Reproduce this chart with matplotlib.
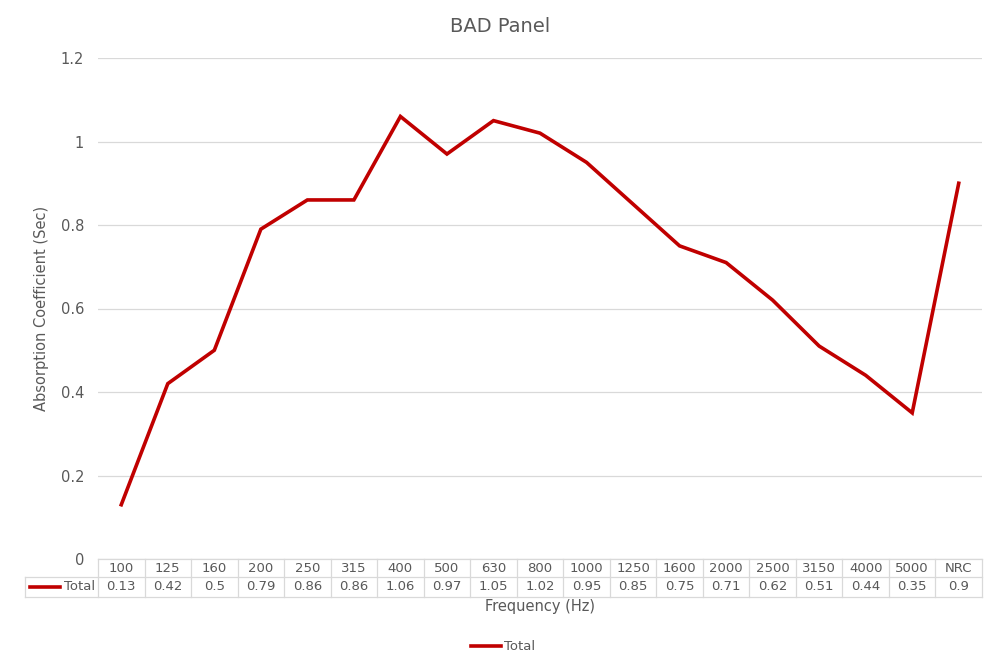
import matplotlib.pyplot as plt
from matplotlib.lines import Line2D

# data
freqs = ["100", "125", "160", "200", "250", "315", "400", "500", "630", "800",
         "1000", "1250", "1600", "2000", "2500", "3150", "4000", "5000", "NRC"]
total = [0.13, 0.42, 0.5, 0.79, 0.86, 0.86, 1.06, 0.97, 1.05, 1.02,
         0.95, 0.85, 0.75, 0.71, 0.62, 0.51, 0.44, 0.35, 0.9]

W, H = 1000, 668
txt = "#595959"
grid = "#d9d9d9"
red = "#c00000"

fig = plt.figure(figsize=(10, 6.68), dpi=100)
x0, x1, y0, y1 = 98, 982, 559, 58
ax = fig.add_axes([x0 / W, 1 - y0 / H, (x1 - x0) / W, (y0 - y1) / H])

n = len(freqs)
xs = list(range(n))
ax.plot(xs, total, color=red, lw=2.6, solid_joinstyle="miter")
ax.set_xlim(-0.5, n - 0.5)
ax.set_ylim(0, 1.2)
ax.set_yticks([0, 0.2, 0.4, 0.6, 0.8, 1, 1.2])
ax.set_yticklabels(["0", "0.2", "0.4", "0.6", "0.8", "1", "1.2"])
ax.tick_params(axis="y", length=0, pad=10, labelsize=10.5, labelcolor=txt)
ax.set_xticks([])
ax.grid(axis="y", color=grid, lw=0.9)
ax.set_axisbelow(True)
for s in ax.spines.values():
    s.set_visible(False)
ax.set_ylabel("Absorption Coefficient (Sec)", color=txt, fontsize=10.5, labelpad=8)

# data table below the plot, in figure pixel coords
def fx(px):
    return px / W

def fy(py):
    return 1 - py / H

cw = (x1 - x0) / n
r0, r1, r2 = 559, 577, 597
lk = dict(color=grid, lw=0.9, transform=fig.transFigure)
fig.add_artist(Line2D([fx(x0), fx(x1)], [fy(r0), fy(r0)], **lk))
fig.add_artist(Line2D([fx(25), fx(x1)], [fy(r1), fy(r1)], **lk))
fig.add_artist(Line2D([fx(25), fx(x1)], [fy(r2), fy(r2)], **lk))
fig.add_artist(Line2D([fx(25), fx(25)], [fy(r1), fy(r2)], **lk))
for i in range(n + 1):
    px = x0 + i * cw
    fig.add_artist(Line2D([fx(px), fx(px)], [fy(r0), fy(r2)], **lk))
for i, (f, v) in enumerate(zip(freqs, total)):
    cx = x0 + (i + 0.5) * cw
    fig.text(fx(cx), fy((r0 + r1) / 2), f, ha="center", va="center", fontsize=9.5, color=txt)
    fig.text(fx(cx), fy((r1 + r2) / 2), f"{v:g}", ha="center", va="center", fontsize=9.5, color=txt)
fig.add_artist(Line2D([fx(30), fx(60)], [fy(587), fy(587)], color=red, lw=2.6, transform=fig.transFigure))
fig.text(fx(64), fy(587), "Total", ha="left", va="center", fontsize=9.5, color=txt)

fig.text(fx((x0 + x1) / 2), fy(607), "Frequency (Hz)", ha="center", va="center", fontsize=10.5, color=txt)
fig.text(0.5, fy(27), "BAD Panel", ha="center", va="center", fontsize=14, color=txt)

# legend
fig.add_artist(Line2D([fx(471), fx(501)], [fy(646), fy(646)], color=red, lw=2.6, transform=fig.transFigure))
fig.text(fx(504), fy(646), "Total", ha="left", va="center", fontsize=9.5, color=txt)

fig.savefig("out.png", dpi=100)
